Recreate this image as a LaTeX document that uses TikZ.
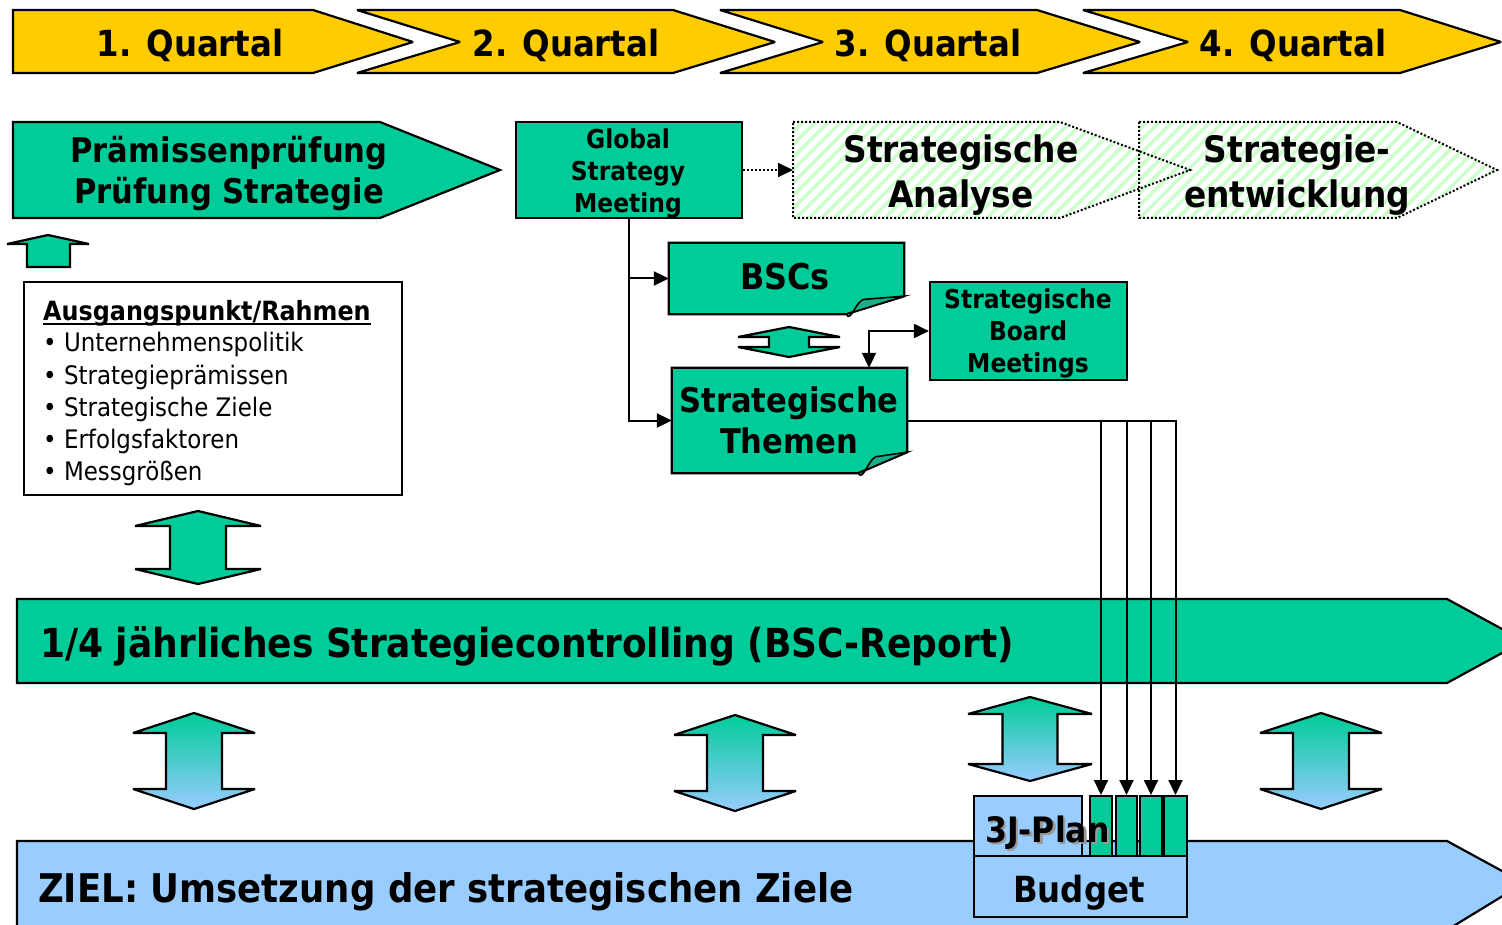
\documentclass[tikz,border=0pt]{standalone}
\usepackage{fontspec}
\setmainfont{DejaVu Sans}[FakeStretch=0.9]
\usetikzlibrary{arrows.meta,patterns.meta,calc}
\definecolor{qyellow}{HTML}{FFCC00}
\definecolor{bscgreen}{HTML}{00CC99}
\definecolor{foldgreen}{HTML}{1AAE88}
\definecolor{skyblue}{HTML}{99CCFF}
\definecolor{hatchgreen}{HTML}{CCFFCC}
\newcommand\fsz[2]{\fontsize{#1}{#2}\selectfont\bfseries}
% double-headed block arrow: style, centre x, top y, bottom y, half head width, half shaft width, head length
\newcommand\dblarrow[7]{\path[#1] (#2,#3) -- ({#2+#5},{#3+#7}) -- ({#2+#6},{#3+#7}) -- ({#2+#6},{#4-#7}) -- ({#2+#5},{#4-#7}) -- (#2,#4) -- ({#2-#5},{#4-#7}) -- ({#2-#6},{#4-#7}) -- ({#2-#6},{#3+#7}) -- ({#2-#5},{#3+#7}) -- cycle;}
\tikzset{
  outline/.style={draw=black,line width=2.2pt,line join=miter,miter limit=3},
  greenshape/.style={outline,fill=bscgreen},
  blueshape/.style={outline,fill=skyblue},
  yellowshape/.style={outline,fill=qyellow},
  gradshape/.style={outline,top color=bscgreen,bottom color=skyblue},
  foldshape/.style={draw=black,line width=1.6pt,fill=foldgreen},
  hatched/.style={pattern={Lines[angle=45,distance=9pt,line width=3.5pt]},pattern color=hatchgreen},
  dotborder/.style={draw=black,line width=2pt,dash pattern=on 2pt off 2pt},
  lbl/.style={inner sep=0pt},
  conn/.style={draw=black,line width=2pt},
  tip/.style={-{Triangle[length=15pt,width=14pt]}},
  tips/.style={{Triangle[length=15pt,width=14pt]}-{Triangle[length=15pt,width=14pt]}},
  dotconn/.style={conn,dash pattern=on 2pt off 2pt},
  smallbox/.style={draw=black,line width=2pt,fill=bscgreen,inner sep=0pt,minimum height=60pt},
}
\begin{document}
\begin{tikzpicture}[x=1pt,y=-1pt]
\useasboundingbox (0,0) rectangle (1502,925);
\fill[white] (0,0) rectangle (1502,925);

% quarter chevrons
\path[yellowshape] (13,10) -- (313,10) -- (413,42) -- (313,73) -- (13,73) -- cycle;
\path[yellowshape] (357,10) -- (673,10) -- (775,42) -- (673,73) -- (357,73) -- (460,42) -- cycle;
\path[yellowshape] (720,10) -- (1037,10) -- (1140,42) -- (1037,73) -- (720,73) -- (823,42) -- cycle;
\path[yellowshape] (1083,10) -- (1400,10) -- (1501,42) -- (1400,73) -- (1083,73) -- (1188,42) -- cycle;
\node[lbl,font=\fsz{36}{36},anchor=base] (q1) at (190,57) {1. Quartal};
\node[lbl,font=\fsz{36}{36},anchor=base] (q2) at (566,57) {2. Quartal};
\node[lbl,font=\fsz{36}{36},anchor=base] (q3) at (928,57) {3. Quartal};
\node[lbl,font=\fsz{36}{36},anchor=base] (q4) at (1293,57) {4. Quartal};

% premise check
\path[greenshape] (13,122) -- (380,122) -- (500,170) -- (380,218) -- (13,218) -- cycle;
\node[lbl,font=\fsz{34}{41},align=center] (praem) at (229,174) {Prämissenprüfung\\Prüfung Strategie};
\path[greenshape] (48,235) -- (89,244) -- (70,244) -- (70,267) -- (27,267) -- (27,244) -- (7,244) -- cycle;

% framework box
\node[draw=black,line width=2.2pt,fill=white,minimum width=378pt,minimum height=213pt,inner sep=0pt] (frame) at (213,388.5) {};
\node[lbl,font=\fsz{26.5}{32},anchor=base west] (ftitle) at (43,321) {Ausgangspunkt/Rahmen};
\draw[line width=2pt] ([yshift=-3pt]ftitle.base west) -- ([yshift=-3pt]ftitle.base east);
\foreach \t [count=\i] in {Unternehmenspolitik,Strategieprämissen,Strategische Ziele,Erfolgsfaktoren,Messgrößen}
  \node[lbl,font=\fontsize{25.5}{32}\selectfont,anchor=base west] (item\i) at (43,{320+32*\i}) {• \t};

% global strategy meeting
\node[draw=black,line width=2.2pt,fill=bscgreen,minimum width=226pt,minimum height=96pt,inner sep=0pt] (gsm) at (629,170) {};
\node[lbl,font=\fsz{26}{32},align=center] (gsmtext) at (628,173) {Global\\Strategy\\Meeting};

% strategic analysis and development (hatched, dotted)
\path[hatched] (793,122) -- (1060,122) -- (1190,170) -- (1060,218) -- (793,218) -- cycle;
\path[hatched] (1139,122) -- (1397,122) -- (1497,170) -- (1397,218) -- (1139,218) -- cycle;
\path[dotborder] (793,122) -- (1060,122) -- (1190,170) -- (1060,218) -- (793,218) -- cycle;
\path[dotborder] (1139,122) -- (1397,122) -- (1497,170) -- (1397,218) -- (1139,218) -- cycle;
\coordinate (anaW) at (793,170);
\node[lbl,font=\fsz{36.5}{45},align=center] (anatext) at (961,175) {Strategische\\Analyse};
\node[lbl,font=\fsz{36.5}{45},align=center] (devtext) at (1297,175) {Strategie-\\entwicklung};
\draw[dotconn,tip] (gsm.east) -- (anaW);

% BSCs note
\node[lbl,minimum width=235pt,minimum height=71pt] (bsc) at (786.5,278.5) {};
\path[greenshape] (bsc.north west) -- (bsc.north east) -- ([yshift=18pt]bsc.south east) -- ([xshift=-58pt]bsc.south east) -- (bsc.south west) -- cycle;
\path[foldshape] ([xshift=-58pt]bsc.south east) .. controls +(5,10) and +(-10,-2) .. ([xshift=-38pt,yshift=15pt]bsc.south east) -- ([yshift=18pt]bsc.south east) -- cycle;
\node[lbl,font=\fsz{35.5}{40}] (bsctext) at (785,277) {BSCs};

% strategic topics note
\node[lbl,minimum width=235pt,minimum height=105pt] (them) at (789.5,420.5) {};
\path[greenshape] (them.north west) -- (them.north east) -- ([yshift=21pt]them.south east) -- ([xshift=-49pt]them.south east) -- (them.south west) -- cycle;
\path[foldshape] ([xshift=-49pt]them.south east) .. controls +(5,10) and +(-10,-2) .. ([xshift=-28pt,yshift=17pt]them.south east) -- ([yshift=21pt]them.south east) -- cycle;
\node[lbl,font=\fsz{34}{41},align=center] (themtext) at (789,420) {Strategische\\Themen};

% BSCs <-> topics
\dblarrow{greenshape}{789}{327}{357}{51}{20}{10}

% strategic board meetings
\node[draw=black,line width=2.2pt,fill=bscgreen,minimum width=197pt,minimum height=98pt,inner sep=0pt] (sbm) at (1028.5,331) {};
\node[lbl,font=\fsz{26}{32},align=center] (sbmtext) at (1028,333) {Strategische\\Board\\Meetings};

% connectors from the meeting
\draw[conn,tip] (gsm.south) |- (bsc.west);
\draw[conn,tip] (gsm.south) |- (them.west);
\draw[conn,tips] ([xshift=79.5pt]them.north) |- (sbm.west);

% quarterly controlling bar
\path[greenshape] (17,599) -- (1447,599) -- (1524,641) -- (1447,683) -- (17,683) -- cycle;
\node[lbl,font=\fsz{40}{40},anchor=base west] (ctrl) at (40,657) {1/4 jährliches Strategiecontrolling (BSC-Report)};
\dblarrow{greenshape}{198}{511}{584}{63}{28}{15}

% goal bar
\path[blueshape] (17,841) -- (1447,841) -- (1524,883) -- (1447,930) -- (17,930) -- cycle;
\node[lbl,font=\fsz{39.5}{40},anchor=base west] (goal) at (38,902) {ZIEL: Umsetzung der strategischen Ziele};

% gradient double arrows
\dblarrow{gradshape}{194}{713}{809}{61}{28}{20}
\dblarrow{gradshape}{735}{715}{811}{61}{28}{20}
\dblarrow{gradshape}{1030}{697}{781}{62}{27.5}{17}
\dblarrow{gradshape}{1321}{713}{809}{61}{28}{20}

% three-year plan and budget
\node[draw=black,line width=2.2pt,fill=skyblue,minimum width=108pt,minimum height=60pt,inner sep=0pt] (plan) at (1028,826) {};
\node[smallbox,minimum width=22pt] (r1) at (1101,826) {};
\node[smallbox,minimum width=21pt] (r2) at (1126.5,826) {};
\node[smallbox,minimum width=22pt] (r3) at (1151,826) {};
\node[smallbox,minimum width=23pt] (r4) at (1175.5,826) {};
\node[lbl,font=\fsz{35}{35},anchor=base west,text=black!40] (planshadow) at (987.5,844.5) {3J-Plan};
\node[lbl,font=\fsz{35}{35},anchor=base west] (plantext) at (985,842) {3J-Plan};
\node[draw=black,line width=2.2pt,fill=skyblue,minimum width=213pt,minimum height=61pt,inner sep=0pt] (budget) at (1080.5,886.5) {};
\node[lbl,font=\fsz{36}{36},anchor=base] (budgettext) at (1079,902) {Budget};

% topics feed the four plan columns
\draw[conn,tip] (them.east) -| (r4.north);
\foreach \r in {r1,r2,r3}
  \draw[conn,tip] (them.east -| \r.north) -- (\r.north);
\end{tikzpicture}
\end{document}
